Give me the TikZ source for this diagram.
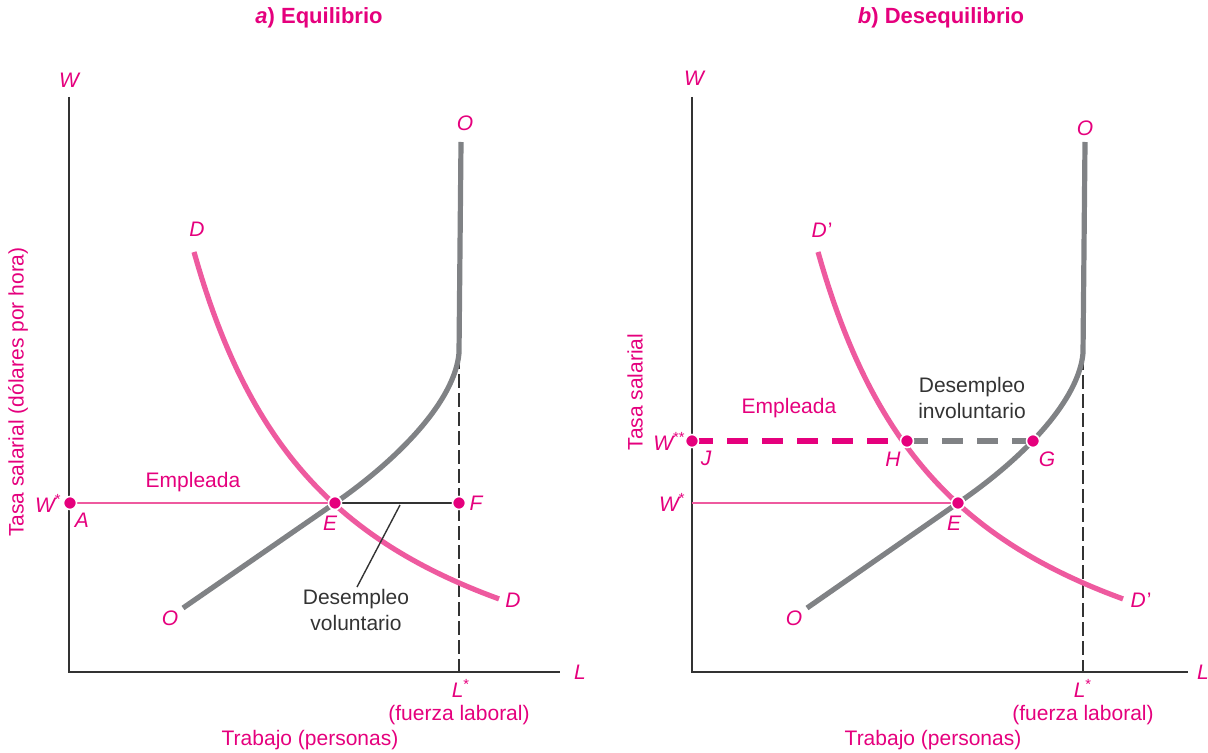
\documentclass[tikz,border=0pt]{standalone}
\usepackage{fontspec}
\setmainfont{Liberation Sans}
\definecolor{mag}{HTML}{E5007D}
\definecolor{pinkc}{HTML}{EE5A9F}
\definecolor{grayc}{HTML}{808285}
\definecolor{axisc}{HTML}{333333}
\begin{document}
\begin{tikzpicture}[x=0.5pt,y=-0.5pt,
  lab/.style={text=mag,font=\fontsize{10.5}{12}\selectfont\itshape,inner sep=0pt},
  txt/.style={text=mag,font=\fontsize{10.5}{13}\selectfont,inner sep=0pt},
  blk/.style={text=axisc,font=\fontsize{10.5}{13}\selectfont,inner sep=0pt,align=center},
  ttl/.style={text=mag,font=\fontsize{11}{13}\selectfont\bfseries,inner sep=0pt},
  axisline/.style={draw=axisc,line width=1pt},
  dcurve/.style={draw=pinkc,line width=2.6pt},
  scurve/.style={draw=grayc,line width=2.6pt},
  guide/.style={draw=axisc,line width=0.7pt,dash pattern=on 7pt off 2.5pt},
  pinkthin/.style={draw=pinkc,line width=0.7pt},
  blackthin/.style={draw=axisc,line width=0.7pt},
  pinkdash/.style={draw=mag,line width=2.6pt,dash pattern=on 10.5pt off 7pt},
  graydash/.style={draw=grayc,line width=2.6pt,dash pattern=on 10.5pt off 7pt},
  dot/.style={circle,fill=mag,draw=white,line width=0.8pt,minimum size=6.5pt,inner sep=0pt},
]
\useasboundingbox (0,0) rectangle (1208,753);

% ---------------- titles
\node[ttl] (ta) at (319,18) {\textit{a}) Equilibrio};
\node[ttl] (tb) at (941,18) {\textit{b}) Desequilibrio};

% ================= LEFT PANEL
\coordinate (Ly) at (69,97);
\coordinate (Lo) at (69,672);
\coordinate (Lx) at (560,672);
\coordinate (A) at (70,503);
\coordinate (E1) at (335,503);
\coordinate (F) at (459,503);
\coordinate (Ltop) at (459,355);
\coordinate (Lbot) at (459,672);
\coordinate (leadA) at (357,587);
\coordinate (leadB) at (400,505);

\draw[guide] (Ltop) -- (Lbot);
\draw[axisline] (Ly) -- (Lo) -- (Lx);
\draw[pinkthin] (A) -- (E1);
\draw[blackthin] (E1) -- (F);
\draw[dcurve] plot[domain=194:499,samples=80] (\x,{762.7-735.41/((\x-50)/100)});
\draw[scurve] (183,608) -- (E1) .. controls (400,458) and (455,400) .. (459,353) -- (461,142);
\draw[blackthin] (leadA) -- (leadB);

\node[dot] (pA) at (A) {};
\node[dot] (pE1) at (E1) {};
\node[dot] (pF) at (F) {};

\node[lab] (lW1) at (69,80) {W};
\node[lab,anchor=east] (lWs1) at (62,503) {W\textsuperscript{\upshape *}};
\node[lab] (lA) at (82,520) {A};
\node[lab] (lE1) at (330,523) {E};
\node[lab] (lF) at (476,503) {F};
\node[lab] (lO1t) at (465,123) {O};
\node[lab] (lO1b) at (170,618) {O};
\node[lab] (lD1t) at (197,229) {D};
\node[lab] (lD1b) at (513,600) {D};
\node[lab] (lL1) at (580,672) {L};
\node[lab] (lLs1) at (461,688) {L\textsuperscript{\upshape *}};
\node[txt] (fl1) at (459,715) {(fuerza laboral)};
\node[txt] (tp1) at (310,740) {Trabajo (personas)};
\node[txt] (em1) at (193,482) {Empleada};
\node[txt,rotate=90] (ts1) at (18,392) {Tasa salarial (dólares por hora)};
\node[blk] (dv) at (356,610) {Desempleo\\voluntario};

% ================= RIGHT PANEL
\coordinate (Ry) at (692,97);
\coordinate (Ro) at (692,672);
\coordinate (Rx) at (1188,672);
\coordinate (B) at (692,503);
\coordinate (E2) at (958,503);
\coordinate (J) at (692,441);
\coordinate (H) at (907,441);
\coordinate (G) at (1033,441);
\coordinate (Rtop) at (1083,356);
\coordinate (Rbot) at (1083,672);

\draw[guide] (Rtop) -- (Rbot);
\draw[axisline] (Ry) -- (Ro) -- (Rx);
\draw[pinkthin] (B) -- (E2);
\draw[pinkdash] (J) -- (H);
\draw[graydash] (H) -- (G);
\draw[dcurve] plot[domain=818:1123,samples=80] (\x,{762.7-735.41/((\x-674)/100)});
\draw[scurve] (807,608) -- (E2) .. controls (1024,458) and (1079,400) .. (1083,353) -- (1085,142);

\node[dot] (pJ) at (J) {};
\node[dot] (pH) at (H) {};
\node[dot] (pG) at (G) {};
\node[dot] (pE2) at (E2) {};

\node[lab] (lW2) at (694,78) {W};
\node[lab,anchor=east] (lWss) at (686,441) {W\textsuperscript{\upshape **}};
\node[lab,anchor=east] (lWs2) at (686,502) {W\textsuperscript{\upshape *}};
\node[lab] (lJ) at (706,458) {J};
\node[lab] (lH) at (893,459) {H};
\node[lab] (lG) at (1047,459) {G};
\node[lab] (lE2) at (954,523) {E};
\node[lab] (lO2t) at (1085,128) {O};
\node[lab] (lO2b) at (794,618) {O};
\node[lab] (lD2t) at (822,230) {D\kern0.5pt\upshape\textquoteright};
\node[lab] (lD2b) at (1141,600) {D\kern0.5pt\upshape\textquoteright};
\node[lab] (lL2) at (1203,672) {L};
\node[lab] (lLs2) at (1083,688) {L\textsuperscript{\upshape *}};
\node[txt] (fl2) at (1083,715) {(fuerza laboral)};
\node[txt] (tp2) at (933,740) {Trabajo (personas)};
\node[txt] (em2) at (789,408) {Empleada};
\node[txt,rotate=90] (ts2) at (635,392) {Tasa salarial};
\node[blk] (di) at (972,398) {Desempleo\\involuntario};
\end{tikzpicture}
\end{document}
